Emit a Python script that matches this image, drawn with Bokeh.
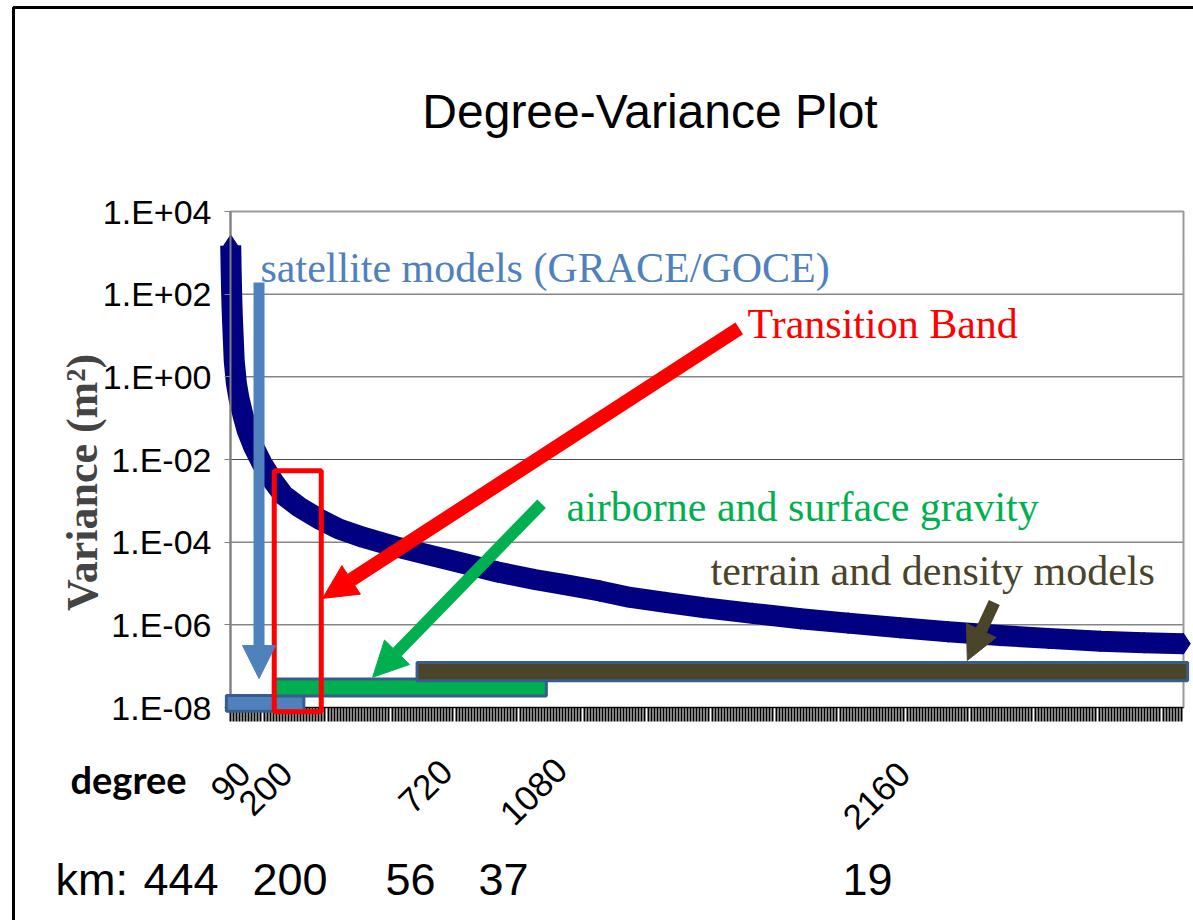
import math
from bokeh.plotting import figure
from bokeh.models import (FixedTicker, CustomJSTickFormatter, Label, BoxAnnotation,
                          Arrow, NormalHead, Range1d)
from bokeh.embed import file_html
from bokeh.resources import INLINE

# ---------------- data ----------------
degree = [2, 3, 4, 5, 6, 8, 10, 15, 21, 30, 40, 55, 74, 100, 124, 160, 208, 250,
          307, 380, 461, 540, 615, 700, 766, 850, 920, 1000, 1088, 1200, 1311,
          1420, 1540, 1650, 1770, 1880, 2000, 2100, 2190]
variance = [1.5e3, 3.7e2, 1.2e2, 5.0e1, 2.5e1, 8.0, 2.5, 7.0e-1, 3.0e-1, 1.2e-1,
            5.0e-2, 2.0e-2, 8.0e-3, 2.95e-3, 1.35e-3, 7.0e-4, 3.5e-4, 2.1e-4,
            1.3e-4, 7.8e-5, 4.8e-5, 3.0e-5, 1.9e-5, 1.25e-5, 9.5e-6, 6.6e-6,
            4.6e-6, 3.5e-6, 2.6e-6, 1.9e-6, 1.4e-6, 1.1e-6, 8.5e-7, 6.8e-7,
            5.5e-7, 4.7e-7, 4.0e-7, 3.7e-7, 3.5e-7]

title_text = "Degree-Variance Plot"
y_title = "Variance (m\u00b2)"
y_ticks = [1e-8, 1e-6, 1e-4, 1e-2, 1e0, 1e2, 1e4]
degree_labels = ["90", "200", "720", "1080", "2160"]
km_labels = ["444", "200", "56", "37", "19"]

band_names = ["satellite models (GRACE/GOCE)", "airborne and surface gravity",
              "terrain and density models"]
band_start_deg = [-8, 100, 430]
band_end_deg = [170, 727, 2200]
transition_name = "Transition Band"
transition_deg = [102, 210]

# ---------------- styling / layout ----------------
NAVY = "#000080"
BLUE = "#4F81BD"
BORDER = "#385D8A"
GREEN = "#00B050"
OLIVE = "#4A442A"
RED = "#FF0000"

W, H = 1193, 920                                # canvas
CH_L, CH_R, CH_T, CH_B = 230, 1183, 211, 707    # chart area inside canvas (px)
X0, X1 = 1.5, 2190.5                            # degree axis extent
Y0, Y1 = 1e-8, 1e4                              # variance axis extent

dpp = (X1 - X0) / (CH_R - CH_L)
dec = (math.log10(Y1) - math.log10(Y0)) / (CH_B - CH_T)
x_range = Range1d(X0 - CH_L * dpp, X1 + (W - CH_R) * dpp)
y_range = Range1d(10 ** (math.log10(Y0) - (H - CH_B) * dec),
                  10 ** (math.log10(Y1) + CH_T * dec))

p = figure(width=W, height=H, y_axis_type="log", x_range=x_range, y_range=y_range,
           output_backend="svg", toolbar_location=None, title_location=None,
           min_border_left=0, min_border_right=0, min_border_top=0, min_border_bottom=0)
p.background_fill_color = "white"
p.border_fill_color = "white"
p.outline_line_color = None
p.xgrid.visible = False
p.ygrid.visible = False

# y axis, pinned to the chart's left edge
p.yaxis.fixed_location = X0
p.yaxis.bounds = (Y0, Y1)
p.yaxis.ticker = FixedTicker(ticks=y_ticks, minor_ticks=[])
p.yaxis.formatter = CustomJSTickFormatter(code="""
    const e = Math.round(Math.log10(tick));
    const s = e < 0 ? '-' : '+';
    const a = Math.abs(e);
    return '1.E' + s + (a < 10 ? '0' : '') + a;
""")
p.yaxis.axis_line_color = "#7f7f7f"
p.yaxis.axis_line_width = 2
p.yaxis.major_tick_line_color = "#7f7f7f"
p.yaxis.major_tick_out = 6
p.yaxis.major_tick_in = 0
p.yaxis.minor_tick_line_color = None
p.yaxis.major_label_standoff = 13
p.yaxis.major_label_text_font = "Liberation Sans"
p.yaxis.major_label_text_font_size = "34px"
p.yaxis.major_label_text_color = "black"

# x axis pinned to the chart bottom: dense category-like ticks, no labels
x_ticks = [X0 + 7 * k for k in range(int((X1 - X0) // 7) + 1)]
p.xaxis.fixed_location = Y0
p.xaxis.bounds = (X0, X1)
p.xaxis.ticker = FixedTicker(ticks=x_ticks, minor_ticks=[])
p.xaxis.formatter = CustomJSTickFormatter(code="return '';")
p.xaxis.axis_line_color = "black"
p.xaxis.major_tick_line_color = "black"
p.xaxis.major_tick_line_width = 2
p.xaxis.major_tick_out = 14
p.xaxis.major_tick_in = 0
p.xaxis.minor_tick_line_color = None

# chart border and horizontal grid lines
p.add_layout(BoxAnnotation(left=X0, right=X1, bottom=Y0, top=Y1, level="underlay",
                           fill_alpha=0.0, line_color="#9a9a9a", line_width=2, line_alpha=1.0))
p.segment(x0=[X0] * len(y_ticks), y0=y_ticks, x1=[X1] * len(y_ticks), y1=y_ticks,
          line_color="#4a4a4a", line_width=1, level="underlay")

# curve
p.line(degree, variance, line_color=NAVY, line_width=21, line_join="round")
p.scatter(degree, variance, marker="diamond", size=21, fill_color=NAVY, line_color=NAVY)

# bands (bars at the bottom)
band_fill = [BLUE, GREEN, OLIVE]
band_bottom = [10 ** -8.09, 10 ** -7.72, 10 ** -7.35]
band_top = [10 ** -7.71, 10 ** -7.31, 10 ** -6.91]
for i in range(3):
    p.add_layout(BoxAnnotation(left=band_start_deg[i], right=band_end_deg[i],
                               bottom=band_bottom[i], top=band_top[i],
                               fill_color=band_fill[i], fill_alpha=1.0,
                               line_color=BORDER, line_width=3, line_alpha=1.0))

# transition band box
p.add_layout(BoxAnnotation(left=transition_deg[0], right=transition_deg[1],
                           bottom=10 ** -8.10, top=10 ** -2.27,
                           fill_alpha=0.0, line_color=RED, line_width=5, line_alpha=1.0))

# arrows
def arrow(xs, ys, xe, ye, color, width, head):
    p.add_layout(Arrow(end=NormalHead(size=head, fill_color=color, line_color=color, line_width=1),
                       x_start=xs, y_start=ys, x_end=xe, y_end=ye,
                       line_color=color, line_width=width))

arrow(67, 10 ** 2.28, 67, 10 ** -7.30, BLUE, 11, 33)
arrow(1170, 10 ** 1.17, 213, 10 ** -5.36, RED, 14, 34)
arrow(716, 10 ** -3.07, 328, 10 ** -7.27, GREEN, 12, 35)
arrow(1756, 10 ** -5.46, 1694, 10 ** -6.86, OLIVE, 12, 33)

# texts (free-floating, canvas pixels); baseline given -> shift for renderer offset
def text(x, base, s, font="Liberation Serif", size=42, color="black", align="left",
         angle=0.0, style="normal"):
    p.add_layout(Label(x=x, y=base - 0.35 * size, x_units="canvas", y_units="canvas",
                       text=s, text_font=font, text_font_size=f"{size}px",
                       text_color=color, text_align=align, text_baseline="alphabetic",
                       angle=angle, text_font_style=style))

def ctext(x, y, s, font="Liberation Sans", size=35, angle=0.0):
    p.add_layout(Label(x=x, y=y, x_units="canvas", y_units="canvas", text=s,
                       text_font=font, text_font_size=f"{size}px", text_color="black",
                       text_align="center", text_baseline="middle", angle=angle))

text(649.5, 128, title_text, font="Liberation Sans", size=48, align="center")
p.add_layout(Label(x=97 - 0.35 * 44, y=482, x_units="canvas", y_units="canvas",
                   text=y_title, text_font="Liberation Serif", text_font_size="44px",
                   text_font_style="bold", text_align="center",
                   text_baseline="alphabetic", angle=math.pi / 2))
text(260, 282, band_names[0], color=BLUE)
text(747, 338, transition_name, color=RED)
text(566, 521, band_names[1], color=GREEN)
text(710, 585, band_names[2], color=OLIVE)

text(70, 792, "degree", font="Lato", size=38, style="bold")
deg_label_pos = [(230, 781), (265, 788), (425, 786), (533, 791), (876, 795)]
for s, (x, y) in zip(degree_labels, deg_label_pos):
    ctext(x, y, s, size=35, angle=math.pi / 4)

text(55, 895, "km:", font="Liberation Sans", size=45)
km_pos = [143, 252, 385, 478, 842]
for s, x in zip(km_labels, km_pos):
    text(x, 895, s, font="Liberation Sans", size=45)

# page frame (left and top edges visible)
p.add_layout(BoxAnnotation(left=13, right=4000, top=7, bottom=4000,
                           left_units="canvas", right_units="canvas",
                           top_units="canvas", bottom_units="canvas",
                           fill_alpha=0.0, line_color="black", line_width=3, line_alpha=1.0))

open("out.html", "w").write(file_html(p, INLINE))
